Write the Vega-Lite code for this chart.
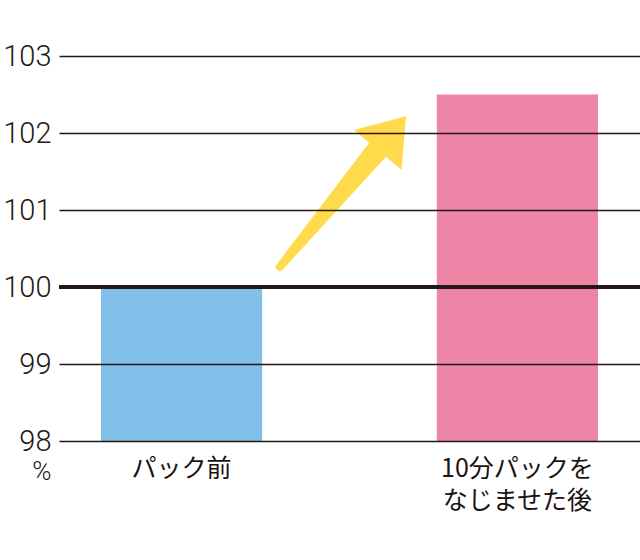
{
  "$schema": "https://vega.github.io/schema/vega-lite/v6.json",
  "width": 581,
  "height": 385,
  "autosize": {"type": "none"},
  "padding": {"left": 59, "top": 56, "right": 0, "bottom": 119},
  "background": "white",
  "config": {"view": {"stroke": null}},
  "datasets": {
    "bars": [
      {"stage": "パック前", "value": 100},
      {"stage": "10分パックを\nなじませた後", "value": 102.5}
    ],
    "shaft": [
      {"pos": 0.38, "value": 100.26, "end": "tail"},
      {"pos": 0.549, "value": 101.79, "end": "head"}
    ],
    "head": [
      {"pos": 0.573, "value": 102.0}
    ]
  },
  "layer": [
    {
      "data": {"name": "bars"},
      "mark": {"type": "bar"},
      "encoding": {
        "x": {
          "field": "stage",
          "type": "nominal",
          "sort": null,
          "scale": {"paddingInner": 0.52, "paddingOuter": 0.125},
          "axis": {
            "title": null,
            "domain": false,
            "ticks": false,
            "labelAngle": 0,
            "labelFont": "Noto Sans CJK JP",
            "labelFontSize": 25,
            "labelFontWeight": 400,
            "labelColor": "#1a1311",
            "labelLineHeight": 32,
            "labelPadding": 15,
            "labelExpr": "split(datum.value, '\\n')"
          }
        },
        "y": {
          "field": "value",
          "type": "quantitative",
          "scale": {"domain": [98, 103], "zero": false, "nice": false},
          "axis": {
            "values": [98, 99, 100, 101, 102, 103],
            "format": "d",
            "domain": false,
            "ticks": false,
            "grid": true,
            "gridColor": "#231815",
            "gridWidth": 1.6,
            "zindex": 1,
            "labelFont": "Roboto",
            "labelFontWeight": 300,
            "labelFontSize": 29,
            "labelColor": "#231815",
            "labelPadding": 8,
            "title": "%",
            "titleAngle": 0,
            "titleFont": "Roboto",
            "titleFontWeight": 300,
            "titleFontSize": 26,
            "titleColor": "#231815",
            "titleAlign": "right",
            "titleBaseline": "top",
            "titleX": -8,
            "titleY": 402
          }
        },
        "y2": {"datum": 98},
        "color": {
          "field": "stage",
          "type": "nominal",
          "sort": null,
          "scale": {"range": ["#82BFE9", "#ED85A6"]},
          "legend": null
        }
      }
    },
    {
      "data": {"name": "shaft"},
      "mark": {"type": "trail", "color": "#FFDA4A"},
      "encoding": {
        "x": {"field": "pos", "type": "quantitative", "scale": {"domain": [0, 1], "nice": false, "zero": false}, "axis": null},
        "y": {"field": "value", "type": "quantitative"},
        "order": {"field": "pos", "type": "quantitative"},
        "size": {"field": "end", "type": "ordinal", "scale": {"domain": ["tail", "head"], "range": [8, 22]}, "legend": null}
      }
    },
    {
      "data": {"name": "head"},
      "mark": {
        "type": "point",
        "filled": true,
        "color": "#FFDA4A",
        "opacity": 1,
        "shape": "M0,-0.71L1,0.71L-1,0.71Z",
        "size": 3844,
        "angle": 40
      },
      "encoding": {
        "x": {"field": "pos", "type": "quantitative", "scale": {"domain": [0, 1], "nice": false, "zero": false}, "axis": null},
        "y": {"field": "value", "type": "quantitative"}
      }
    },
    {
      "data": {"values": [{}]},
      "mark": {"type": "rule", "color": "#231815", "strokeWidth": 4},
      "encoding": {"y": {"datum": 100}}
    }
  ],
  "resolve": {"scale": {"x": "independent"}, "axis": {"x": "independent"}}
}
